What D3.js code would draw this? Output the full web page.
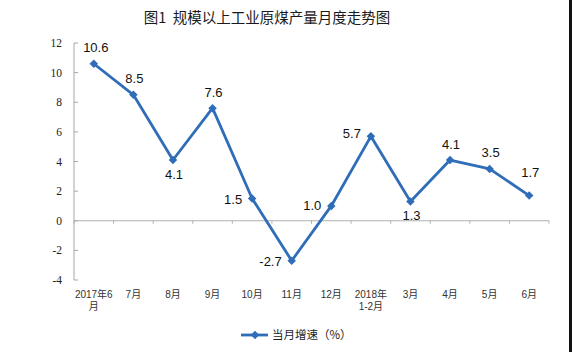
<!DOCTYPE html>
<html>
<head>
<meta charset="utf-8">
<script src="https://cdn.jsdelivr.net/npm/d3@7"></script>
<style>
  body { margin: 0; background: #fff; }
  svg { display: block; }
</style>
</head>
<body>
<svg id="chart" width="572" height="352"></svg>
<script>
// data
var months = ["2017年6|月", "7月", "8月", "9月", "10月", "11月", "12月",
              "2018年|1-2月", "3月", "4月", "5月", "6月"];
var growth = [10.6, 8.5, 4.1, 7.6, 1.5, -2.7, 1.0, 5.7, 1.3, 4.1, 3.5, 1.7];
var yTicks = [-4, -2, 0, 2, 4, 6, 8, 10, 12];

// where each value label sits relative to its point
var labelSide = ["top", "top", "bottom", "top", "left", "left",
                 "left", "left", "bottom", "top", "top", "top"];

var blue = "#2f6db8";
var svg = d3.select("#chart");

svg.append("rect").attr("width", 572).attr("height", 352).attr("fill", "#fff");

var x = d3.scaleBand()
    .domain(months)
    .range([74, 549]);

var y = d3.scaleLinear()
    .domain([-4, 12])
    .range([280, 43]);

// title
svg.append("text")
    .attr("x", 267).attr("y", 23)
    .attr("text-anchor", "middle")
    .style("white-space", "pre")
    .style("font-family", "'Noto Sans CJK SC', sans-serif")
    .style("font-size", "14.5px")
    .attr("fill", "#1a1a1a")
    .text("图1  规模以上工业原煤产量月度走势图");

// y axis
var yAxis = svg.append("g").attr("class", "y-axis");
yAxis.append("line")
    .attr("x1", x.range()[0]).attr("x2", x.range()[0])
    .attr("y1", y(12)).attr("y2", y(-4))
    .attr("stroke", "#a6a6a6");
yAxis.selectAll(".tick")
    .data(yTicks)
  .enter().append("line")
    .attr("x1", x.range()[0]).attr("x2", x.range()[0] + 4)
    .attr("y1", d => y(d)).attr("y2", d => y(d))
    .attr("stroke", "#a6a6a6");
yAxis.selectAll("text")
    .data(yTicks)
  .enter().append("text")
    .attr("x", 62)
    .attr("y", d => y(d))
    .attr("dy", "0.35em")
    .attr("text-anchor", "end")
    .style("font-family", "'Liberation Serif', 'DejaVu Serif', serif")
    .style("font-size", "11.5px")
    .attr("fill", "#222")
    .text(d => d);

// zero line with category ticks
var xAxis = svg.append("g").attr("class", "x-axis");
xAxis.append("line")
    .attr("x1", x.range()[0]).attr("x2", x.range()[1])
    .attr("y1", y(0)).attr("y2", y(0))
    .attr("stroke", "#b0b0b0");
xAxis.selectAll(".tick")
    .data(months.map(m => x(m)).concat([x.range()[1]]))
  .enter().append("line")
    .attr("x1", d => d).attr("x2", d => d)
    .attr("y1", y(0)).attr("y2", y(0) + 3)
    .attr("stroke", "#b0b0b0");

// category labels along the bottom, one text per line
var lines = [];
months.forEach(function(m) {
    m.split("|").forEach(function(p, i) {
        lines.push({ key: m, text: p, row: i });
    });
});
svg.append("g").selectAll("text")
    .data(lines)
  .enter().append("text")
    .attr("x", d => x(d.key) + x.bandwidth() / 2)
    .attr("y", d => 298 + d.row * 12)
    .attr("text-anchor", "middle")
    .style("font-family", "'Liberation Sans', 'Noto Sans CJK SC', sans-serif")
    .style("font-size", "10px")
    .attr("fill", "#333")
    .text(d => d.text);

// the line
var cx = (_, i) => x(months[i]) + x.bandwidth() / 2;
var line = d3.line()
    .x(cx)
    .y(d => y(d));

svg.append("path")
    .datum(growth)
    .attr("fill", "none")
    .attr("stroke", blue)
    .attr("stroke-width", 2.8)
    .attr("stroke-linejoin", "round")
    .attr("d", line);

var diamond = d3.symbol().type(d3.symbolDiamond2).size(46);
svg.append("g").selectAll("path")
    .data(growth)
  .enter().append("path")
    .attr("d", diamond)
    .attr("fill", blue)
    .attr("transform", (d, i) => "translate(" + cx(d, i) + "," + y(d) + ")");

// value labels
svg.append("g").selectAll("text")
    .data(growth)
  .enter().append("text")
    .attr("x", (d, i) => {
        var px = cx(d, i);
        if (labelSide[i] === "left") return px - 10;
        return px + (i === 0 ? 2 : 1);
    })
    .attr("y", (d, i) => {
        var py = y(d);
        if (labelSide[i] === "top") return py - (i === 11 ? 23 : 16);
        if (labelSide[i] === "bottom") return py + 14;
        return py + (i === 6 ? 0 : (i === 7 ? -3 : 1));
    })
    .attr("dy", "0.35em")
    .attr("text-anchor", (d, i) => labelSide[i] === "left" ? "end" : "middle")
    .style("font-family", "'Liberation Sans', Arial, sans-serif")
    .style("font-size", "13px")
    .attr("fill", "#111")
    .text(d => d.toFixed(1));

// legend
var legend = svg.append("g").attr("transform", "translate(241,335)");
legend.append("line")
    .attr("x1", 0).attr("x2", 27)
    .attr("stroke", blue).attr("stroke-width", 2.8);
legend.append("path")
    .attr("d", diamond)
    .attr("fill", blue)
    .attr("transform", "translate(14,0)");
legend.append("text")
    .attr("x", 31).attr("dy", "0.35em")
    .style("font-family", "'Noto Sans CJK SC', sans-serif")
    .style("font-size", "11.5px")
    .attr("fill", "#222")
    .text("当月增速（%）");

// dark strip along the right edge of the original image
svg.append("rect")
    .attr("x", 569).attr("y", 0)
    .attr("width", 3).attr("height", 352)
    .attr("fill", "#111");
</script>
</body>
</html>
